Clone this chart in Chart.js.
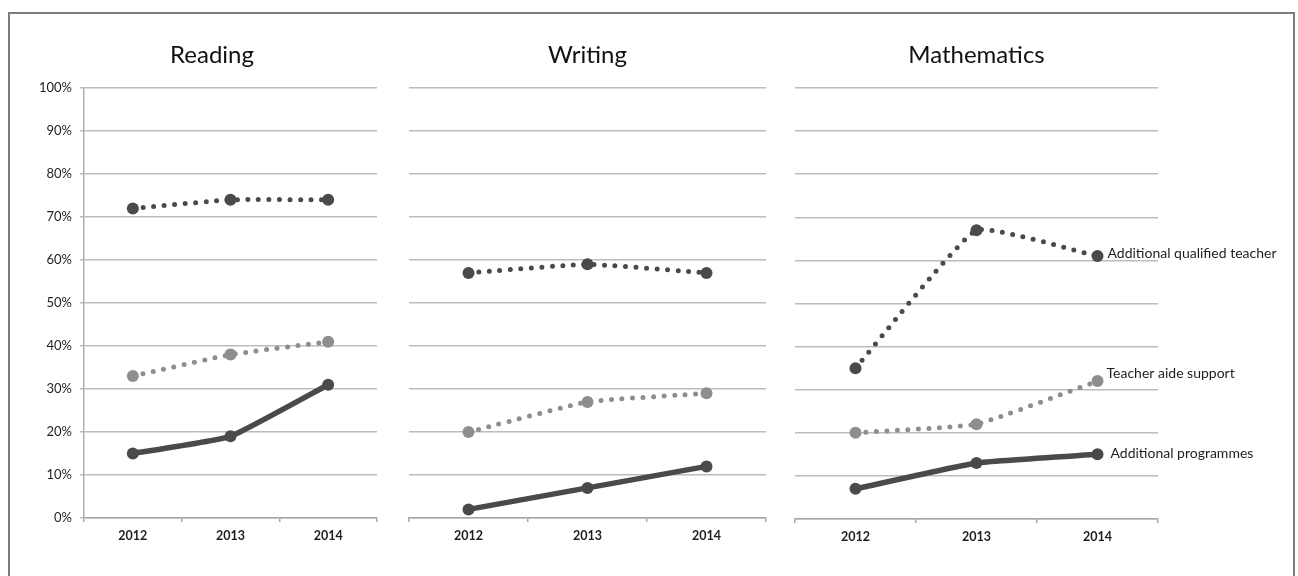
<!DOCTYPE html>
<html>
<head>
<meta charset="utf-8">
<script src="https://cdn.jsdelivr.net/npm/chart.js@4"></script>
<style>
  html, body { margin: 0; padding: 0; background: #fff; }
  #stage { position: relative; width: 1298px; height: 576px; overflow: hidden; background: #fff; }
  #frame { position: absolute; left: 8px; top: 12px; width: 1287px; height: 600px;
           border: 2px solid #7d7d7d; box-sizing: border-box; }
  canvas { position: absolute; top: 0; }
</style>
</head>
<body>
<div id="stage">
  <div id="frame"></div>
  <canvas id="reading" width="380" height="576" style="left:22px"></canvas>
  <canvas id="writing" width="377" height="576" style="left:399px"></canvas>
  <canvas id="maths" width="505" height="576" style="left:785px"></canvas>
</div>
<script>
// Survey years on the x axis
const years = ['2012', '2013', '2014'];

// Series names
const seriesNames = ['Additional qualified teacher', 'Teacher aide support', 'Additional programmes'];

// Percent of schools using each kind of support
const readingQualified = [72, 74, 74];
const readingAide = [33, 38, 41];
const readingProgrammes = [15, 19, 31];

const writingQualified = [57, 59, 57];
const writingAide = [20, 27, 29];
const writingProgrammes = [2, 7, 12];

const mathsQualified = [35, 67, 61];
const mathsAide = [20, 22, 32];
const mathsProgrammes = [7, 13, 15];

// Y axis ticks
const yTicks = [0, 10, 20, 30, 40, 50, 60, 70, 80, 90, 100];

const FONT = "Lato, 'Open Sans', sans-serif";
const DARK = '#4a4a4a';
const LIGHT = '#8e8e8e';
const GRID = '#bcbcbc';

function seriesSets(q, a, p) {
  return [
    { label: seriesNames[0], data: q, borderColor: DARK, backgroundColor: DARK,
      borderWidth: 5, borderDash: [0, 10.5], borderCapStyle: 'round',
      pointRadius: 6, pointBorderWidth: 0, pointBackgroundColor: DARK, tension: 0.12 },
    { label: seriesNames[1], data: a, borderColor: LIGHT, backgroundColor: LIGHT,
      borderWidth: 5, borderDash: [0, 10.5], borderCapStyle: 'round',
      pointRadius: 6, pointBorderWidth: 0, pointBackgroundColor: LIGHT, tension: 0.12 },
    { label: seriesNames[2], data: p, borderColor: DARK, backgroundColor: DARK,
      borderWidth: 5.5, borderCapStyle: 'round', borderJoinStyle: 'round',
      pointRadius: 6, pointBorderWidth: 0, pointBackgroundColor: DARK, tension: 0.12 }
  ];
}

// Names written beside the last point of each line
const endLabels = {
  id: 'endLabels',
  afterDatasetsDraw(chart, args, opts) {
    if (!opts.show) return;
    const ctx = chart.ctx;
    ctx.save();
    ctx.font = '14px ' + FONT;
    ctx.fillStyle = '#1e1e1e';
    ctx.textAlign = 'left';
    ctx.textBaseline = 'middle';
    chart.data.datasets.forEach((ds, i) => {
      const meta = chart.getDatasetMeta(i);
      const pt = meta.data[meta.data.length - 1];
      const off = opts.offsets[i];
      ctx.fillText(ds.label, pt.x + off[0], pt.y + off[1]);
    });
    ctx.restore();
  }
};

function makePanel(id, title, datasets, cfg) {
  const showY = cfg.showY;
  const scales = {
    x: {
      type: 'category',
      offset: true,
      afterFit(s) { s.height = 40; },
      grid: { display: true, drawOnChartArea: false, drawTicks: true, tickLength: 4,
              offset: true, color: '#a8a8a8', lineWidth: 1.5 },
      border: { display: true, color: '#a8a8a8', width: 1.5 },
      ticks: { color: '#1e1e1e', padding: 6, font: { family: FONT, size: 12.5, weight: 'bold' } }
    },
    y: {
      min: 0, max: 100,
      afterBuildTicks(s) { s.ticks = yTicks.map(v => ({ value: v })); },
      afterFit(s) { s.width = cfg.yWidth; },
      grid: { color: GRID, lineWidth: 1.5, drawTicks: showY, tickLength: 4 },
      border: { display: showY, color: '#b0b0b0', width: 1.5 },
      ticks: { display: showY, color: '#1e1e1e', padding: 8,
               font: { family: FONT, size: 13 }, callback: v => v + '%' }
    }
  };
  if (cfg.rightGap) {
    // empty right-hand box so the title centres over labels and plot together
    scales.gap = {
      type: 'linear', position: 'right', display: true,
      afterFit(s) { s.width = cfg.rightGap; },
      grid: { display: false }, border: { display: false }, ticks: { display: false }
    };
  }
  return new Chart(document.getElementById(id), {
    type: 'line',
    data: { labels: years, datasets: datasets },
    plugins: [endLabels],
    options: {
      responsive: false,
      animation: false,
      devicePixelRatio: 1,
      layout: { padding: cfg.padding },
      plugins: {
        legend: { display: false },
        tooltip: { enabled: false },
        title: {
          display: true, text: title, color: '#111', fullSize: cfg.titleFull,
          font: { family: FONT, size: 24, weight: 'normal' },
          padding: { top: 40.6, bottom: 18.6 }
        },
        endLabels: { show: !!cfg.offsets, offsets: cfg.offsets || [] }
      },
      scales: scales
    }
  });
}

makePanel('reading', 'Reading', seriesSets(readingQualified, readingAide, readingProgrammes),
  { showY: true, titleFull: true, yWidth: 62, rightGap: 25, padding: { left: 0, right: 0, top: 0, bottom: 18 } });

makePanel('writing', 'Writing', seriesSets(writingQualified, writingAide, writingProgrammes),
  { showY: false, titleFull: false, yWidth: 0, padding: { left: 10, right: 10, top: 0, bottom: 18 } });

makePanel('maths', 'Mathematics', seriesSets(mathsQualified, mathsAide, mathsProgrammes),
  { showY: false, titleFull: false, yWidth: 0, padding: { left: 10, right: 132, top: 0, bottom: 17 },
    offsets: [[10, -3], [9, -8], [13, -1]] });
</script>
</body>
</html>
